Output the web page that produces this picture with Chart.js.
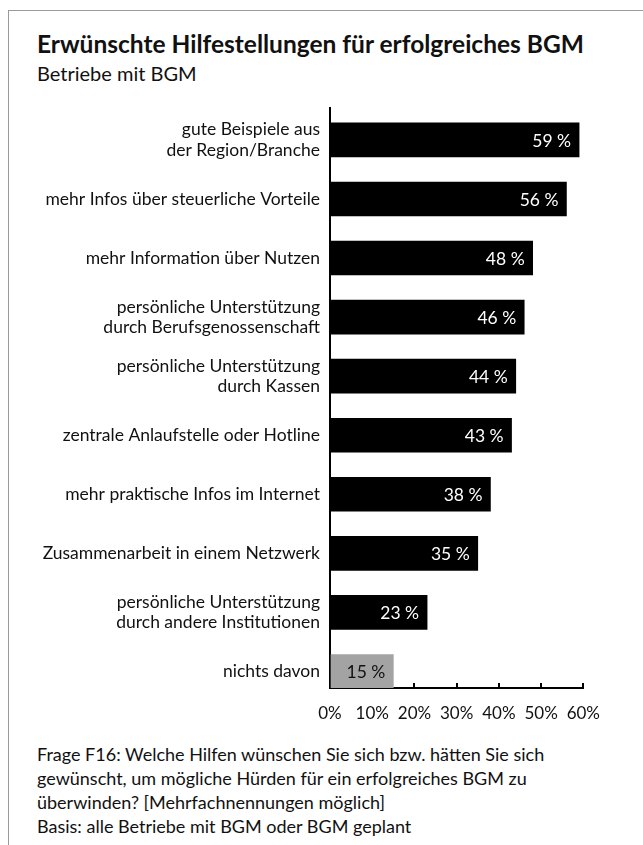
<!DOCTYPE html>
<html>
<head>
<meta charset="utf-8">
<script src="https://cdn.jsdelivr.net/npm/chart.js@4"></script>
<style>
body { margin:0; background:#fff; font-family: Lato, sans-serif; color:#111; }
#box { position:absolute; left:8px; top:10px; width:700px; height:900px; border:1px solid #9a9a9a; }
#title { position:absolute; left:37px; top:29px; font-size:24.5px; font-weight:bold; white-space:nowrap; }
#sub { position:absolute; left:37px; top:61px; font-size:20px; white-space:nowrap; }
#wrap { position:absolute; left:0; top:100px; width:620px; height:630px; }
#note { position:absolute; left:37px; top:742px; font-size:18px; line-height:24px; white-space:nowrap; }
</style>
</head>
<body>
<div id="box"></div>
<div id="title">Erwünschte Hilfestellungen für erfolgreiches BGM</div>
<div id="sub">Betriebe mit BGM</div>
<div id="wrap"><canvas id="c"></canvas></div>
<div id="note">Frage F16: Welche Hilfen wünschen Sie sich bzw. hätten Sie sich<br>gewünscht, um mögliche Hürden für ein erfolgreiches BGM zu<br>überwinden? [Mehrfachnennungen möglich]<br>Basis: alle Betriebe mit BGM oder BGM geplant</div>
<script>
const categories = [
    ['gute Beispiele aus', 'der Region/Branche'],
    'mehr Infos über steuerliche Vorteile',
    'mehr Information über Nutzen',
    ['persönliche Unterstützung', 'durch Berufsgenossenschaft'],
    ['persönliche Unterstützung', 'durch Kassen'],
    'zentrale Anlaufstelle oder Hotline',
    'mehr praktische Infos im Internet',
    'Zusammenarbeit in einem Netzwerk',
    ['persönliche Unterstützung', 'durch andere Institutionen'],
    'nichts davon'
];
const values = [59, 56, 48, 46, 44, 43, 38, 35, 23, 15];
const xTicks = [0, 10, 20, 30, 40, 50, 60];

const barColors = values.map((v, i) => i == values.length - 1 ? '#a3a3a3' : '#000');

// value labels inside the bars, right aligned
const valueLabels = {
    id: 'valueLabels',
    afterDatasetsDraw(chart) {
        const ctx = chart.ctx;
        const meta = chart.getDatasetMeta(0);
        ctx.save();
        ctx.font = '17.5px Lato, sans-serif';
        ctx.textAlign = 'right';
        ctx.textBaseline = 'middle';
        meta.data.forEach((bar, i) => {
            ctx.fillStyle = i == values.length - 1 ? '#111' : '#fff';
            ctx.fillText(values[i] + ' %', bar.x - 8, bar.y + 1);
        });
        ctx.restore();
    }
};

const chart = new Chart(document.getElementById('c'), {
    type: 'bar',
    data: {
        datasets: [{
            data: values.map((v, i) => ({ x: v, y: i })),
            backgroundColor: barColors,
            barThickness: 34
        }]
    },
    options: {
        indexAxis: 'y',
        responsive: true,
        maintainAspectRatio: false,
        animation: false,
        layout: { padding: { top: 8, right: 35, left: 0, bottom: 0 } },
        plugins: {
            legend: { display: false },
            tooltip: { enabled: false }
        },
        scales: {
            x: {
                type: 'linear',
                min: 0,
                max: 60,
                afterBuildTicks: (scale) => { scale.ticks = xTicks.map(v => ({ value: v })); },
                afterFit: (scale) => { scale.height = 42; },
                border: { color: '#000', width: 2 },
                grid: { drawOnChartArea: false, drawTicks: true, tickLength: -5, color: '#000', lineWidth: 2 },
                ticks: {
                    color: '#111',
                    padding: 20,
                    font: { family: 'Lato', size: 17 },
                    callback: (v) => v + '%'
                }
            },
            y: {
                type: 'linear',
                reverse: true,
                offset: false,
                min: -0.54,
                max: 9.28,
                afterBuildTicks: (scale) => { scale.ticks = categories.map((c, i) => ({ value: i })); },
                afterFit: (scale) => {
                    scale.width = 330;
                    scale.paddingTop = 0;
                    scale.paddingBottom = 0;
                },
                border: { color: '#000', width: 2 },
                grid: { drawOnChartArea: false, drawTicks: false },
                ticks: {
                    color: '#111',
                    padding: 10,
                    font: { family: 'Lato', size: 17.5, lineHeight: 1.15 },
                    callback: (v) => categories[v]
                }
            }
        }
    },
    plugins: [valueLabels]
});
</script>
</body>
</html>
